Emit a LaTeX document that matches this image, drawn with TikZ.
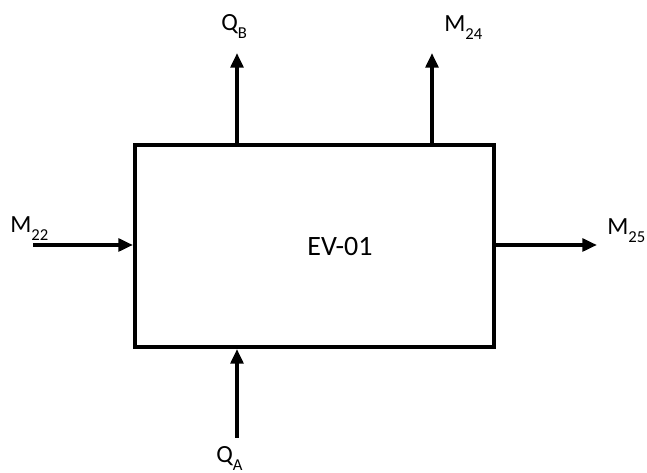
\documentclass[tikz,border=0pt]{standalone}
\usepackage{fontspec}
\setmainfont{Carlito}
\usetikzlibrary{arrows.meta}
\newcommand{\flowsub}[1]{\raisebox{-5.5pt}{\fontsize{12.5}{13}\selectfont #1}}

\begin{document}
\begin{tikzpicture}[x=0.75pt, y=-0.75pt]
    \useasboundingbox (0,0) rectangle (647,473);
    \tikzset{stream/.style={line width=3pt, -{Triangle[length=11pt, width=9.5pt]}},
             tag/.style={anchor=base west, inner sep=0pt, font=\fontsize{18.5}{22}\selectfont}}

    % Evaporator block
    \node[draw, line width=3pt, inner sep=0pt,
          minimum width=269.25pt, minimum height=151.5pt] (ev) at (314.5,246) {};
    \node[font=\fontsize{21}{24}\selectfont] (evname) at (340,247) {EV-01};

    % Stream end points
    \coordinate (qb) at (237,53);
    \coordinate (m24) at (432,53);
    \coordinate (m22) at (33,245);
    \coordinate (m25) at (597,245);
    \coordinate (qa) at (237,438);

    % Streams
    \draw[stream] (ev.north -| qb) -- (qb);
    \draw[stream] (ev.north -| m24) -- (m24);
    \draw[stream] (m22) -- (m22 -| ev.west);
    \draw[stream] (m22 -| ev.east) -- (m25);
    \draw[stream] (qa) -- (qa |- ev.south);

    % Labels
    \node[tag] (lqb) at (221,31) {Q\flowsub{B}};
    \node[tag] (lm24) at (444,32) {M\flowsub{24}};
    \node[tag] (lm22) at (10,233) {M\flowsub{22}};
    \node[tag] (lm25) at (607,235) {M\flowsub{25}};
    \node[tag] (lqa) at (216,463) {Q\flowsub{A}};
\end{tikzpicture}
\end{document}
